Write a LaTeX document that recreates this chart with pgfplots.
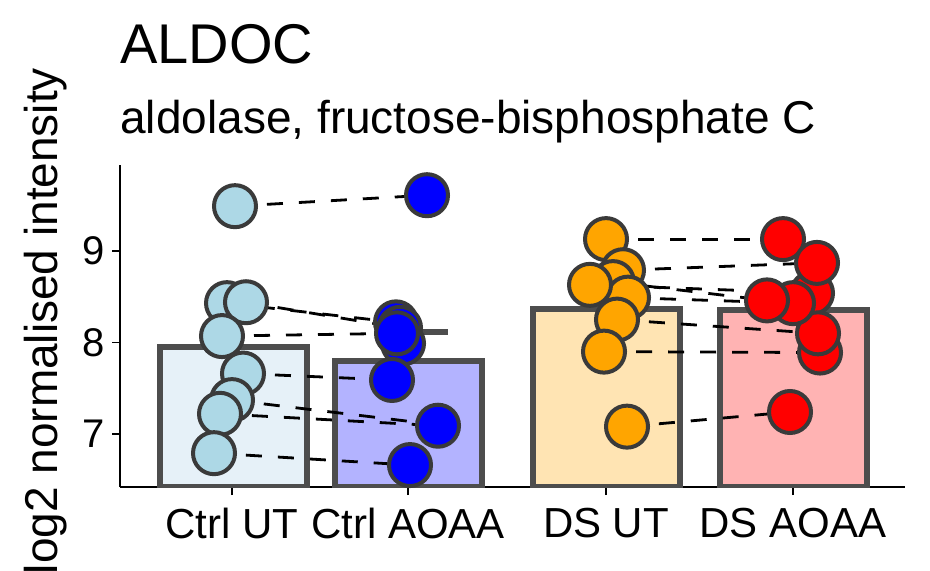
\documentclass[border=0pt]{standalone}
\usepackage{pgfplots}
\pgfplotsset{compat=1.18}
\usepackage{fontspec}
\setmainfont{Liberation Sans}
\definecolor{edge}{HTML}{4D4D4D}
\definecolor{medge}{HTML}{3A3A3A}
\definecolor{f1}{HTML}{E6F1F8}
\definecolor{f2}{HTML}{B3B3FF}
\definecolor{f3}{HTML}{FFE4B3}
\definecolor{f4}{HTML}{FFB3B3}
\definecolor{lb}{HTML}{ADD8E6}
\definecolor{bl}{HTML}{0000FF}
\definecolor{or}{HTML}{FFA500}
\definecolor{rd}{HTML}{FF0000}
\begin{document}
\begin{tikzpicture}
\begin{axis}[name=ax, at={(0,0)}, anchor=south west,
  scale only axis, width=392.5pt, height=161pt,
  xmin=120, xmax=905, ymin=6.42, ymax=9.94,
  axis x line=bottom, axis y line=left,
  axis line style={line width=1pt,-},
  xtick={232,408,606,793},
  xticklabels={Ctrl UT,Ctrl AOAA,DS UT,DS AOAA},
  ytick={7,8,9},
  tick style={line width=0.8pt,black},
  tick align=outside, major tick length=4pt,
  xticklabel style={font=\fontsize{21}{24}\selectfont, yshift=-3pt},
  yticklabel style={font=\fontsize{20}{24}\selectfont},
  /pgf/number format/assume math mode=true,
  clip=true]
\addplot[ybar, bar width=147, draw=edge, line width=3pt, fill=f1] coordinates {(233,7.95)};
\addplot[ybar, bar width=147, draw=edge, line width=3pt, fill=f2] coordinates {(408,7.80)};
\addplot[ybar, bar width=147, draw=edge, line width=3pt, fill=f3] coordinates {(606,8.37)};
\addplot[ybar, bar width=147, draw=edge, line width=3pt, fill=f4] coordinates {(793,8.35)};
\addplot[edge, line width=3pt] coordinates {(420,8.12) (448,8.12)};
\pgfplotsset{pair/.style={black, line width=1.4pt, dash pattern=on 8pt off 8pt}}
\addplot[pair] coordinates {(235,9.49) (427,9.61)};
\addplot[pair] coordinates {(227,8.43) (396,8.22)};
\addplot[pair] coordinates {(246,8.44) (400,8.16)};
\addplot[pair] coordinates {(222,8.07) (397,8.10)};
\addplot[pair] coordinates {(243,7.66) (392,7.59)};
\addplot[pair] coordinates {(232,7.37) (438,7.10)};
\addplot[pair] coordinates {(220,7.22) (438,7.09)};
\addplot[pair] coordinates {(214,6.79) (410,6.66)};
\addplot[pair] coordinates {(606,9.13) (783,9.13)};
\addplot[pair] coordinates {(623,8.79) (817,8.87)};
\addplot[pair] coordinates {(590,8.63) (812,8.54)};
\addplot[pair] coordinates {(613,8.66) (767,8.46)};
\addplot[pair] coordinates {(628,8.49) (793,8.43)};
\addplot[pair] coordinates {(617,8.25) (818,8.10)};
\addplot[pair] coordinates {(604,7.90) (820,7.89)};
\addplot[pair] coordinates {(627,7.08) (790,7.24)};
\addplot[only marks, mark=*, mark size=10.5pt, mark options={fill=lb, draw=medge, line width=2pt}] coordinates {
(235,9.49) (227,8.43) (246,8.44) (222,8.07) (243,7.66) (232,7.37) (220,7.22) (214,6.79)};
\addplot[only marks, mark=*, mark size=10.5pt, mark options={fill=bl, draw=medge, line width=2pt}] coordinates {
(427,9.61) (396,8.22) (400,8.16) (403,7.99) (397,8.10) (392,7.59) (438,7.09) (410,6.66)};
\addplot[only marks, mark=*, mark size=10.5pt, mark options={fill=or, draw=medge, line width=2pt}] coordinates {
(606,9.13) (623,8.79) (613,8.66) (628,8.49) (590,8.63) (617,8.25) (604,7.90) (627,7.08)};
\addplot[only marks, mark=*, mark size=10.5pt, mark options={fill=rd, draw=medge, line width=2pt}] coordinates {
(783,9.13) (812,8.54) (817,8.87) (820,7.89) (818,8.10) (793,8.43) (767,8.46) (790,7.24)};
\end{axis}
\node[anchor=base west, font=\fontsize{28}{32}\selectfont, inner sep=0pt] at (0pt,212pt) {ALDOC};
\node[anchor=base west, font=\fontsize{23}{27}\selectfont, inner sep=0pt] at (0pt,177pt) {aldolase, fructose-bisphosphate C};
\node[rotate=90, anchor=center, font=\fontsize{23}{27}\selectfont, inner sep=0pt] at (-37pt,83pt) {log2 normalised intensity};
\pgfresetboundingbox
\path (-60pt,-41.5pt) rectangle (405pt,243.5pt);
\end{tikzpicture}
\end{document}
